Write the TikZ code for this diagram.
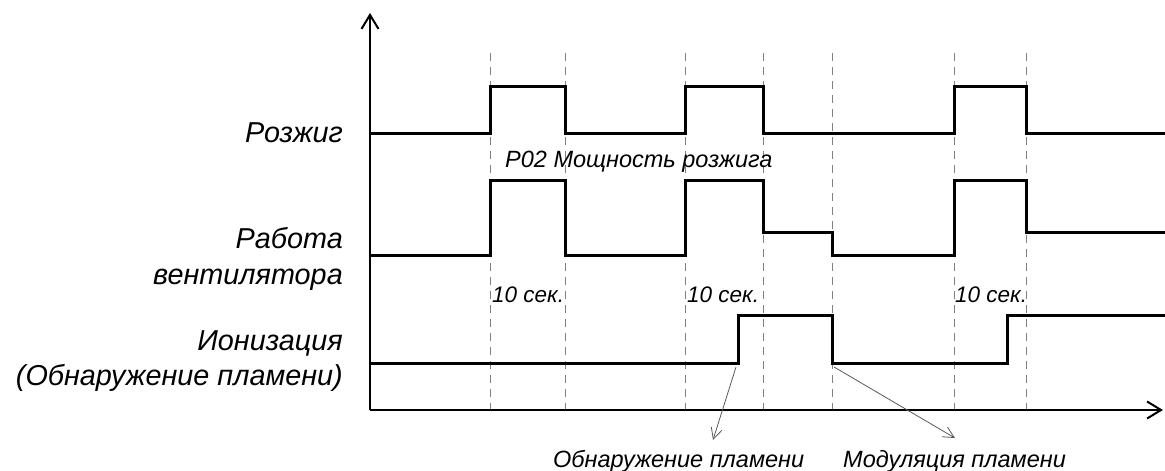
\documentclass[tikz,border=0pt]{standalone}
\usepackage{fontspec}
\setmainfont{Liberation Sans}
\usetikzlibrary{arrows.meta}
\begin{document}
\begin{tikzpicture}[x=1pt,y=-1pt,
  sig/.style={line width=3pt, line join=miter},
  axisline/.style={line width=2pt,-{Straight Barb[length=14pt,width=17pt,line width=2pt]}},
  guide/.style={black!50, line width=0.9pt, dash pattern=on 8pt off 6pt},
  pointer/.style={black!65,line width=0.8pt,-{Straight Barb[length=11pt,width=11pt]}},
  biglab/.style={font=\fontsize{28.8}{34}\selectfont\itshape, inner sep=0pt, anchor=base east},
  smalllab/.style={font=\fontsize{23.5}{28}\selectfont\itshape, inner sep=0pt, anchor=base west},
  seclab/.style={font=\fontsize{22.5}{27}\selectfont\itshape, inner sep=0pt, anchor=base west}]
\useasboundingbox (0,0) rectangle (1165,471);
% axes
\coordinate (O) at (370,410);
\coordinate (ytop) at (370,13);
\coordinate (xend) at (1163,410);
% dashed guides
\foreach \x/\n in {490/1,565/2,685/3,763/4,832/5,954/6,1026/7}{
  \coordinate (g\n top) at (\x,53);
  \coordinate (g\n bot) at (\x,410);
  \draw[guide] (g\n top) -- (g\n bot);
}
\draw[axisline] (O) -- (ytop);
\draw[axisline] (O) -- (xend);
% signals
\draw[sig] (370,133) -- (490,133) -- (490,86) -- (565,86) -- (565,133) -- (685,133) -- (685,86) -- (763,86) -- (763,133) -- (954,133) -- (954,86) -- (1026,86) -- (1026,133) -- (1165,133);
\draw[sig] (370,255) -- (490,255) -- (490,180) -- (565,180) -- (565,255) -- (685,255) -- (685,180) -- (763,180) -- (763,232) -- (832,232) -- (832,255) -- (954,255) -- (954,180) -- (1026,180) -- (1026,232) -- (1165,232);
\draw[sig] (370,363) -- (738,363) -- (738,315) -- (832,315) -- (832,363) -- (1007,363) -- (1007,315) -- (1165,315);
% labels
\node[biglab] (l1) at (343,142) {Розжиг};
\node[biglab] (l2a) at (343,248) {Работа};
\node[biglab] (l2b) at (343,284) {вентилятора};
\node[biglab] (l3a) at (343,350) {Ионизация};
\node[biglab] (l3b) at (343,385) {(Обнаружение пламени)};
\node[smalllab] (p02) at (505,167) {P02 Мощность розжига};
\node[seclab] (s1) at (492,302) {10 сек.};
\node[seclab] (s2) at (687,302) {10 сек.};
\node[seclab] (s3) at (955,302) {10 сек.};
\node[smalllab] (fl) at (553,467) {Обнаружение пламени};
\node[smalllab] (ml) at (843,467) {Модуляция пламени};
% pointers
\coordinate (fdstart) at (736,367);
\coordinate (fdend) at (713,440);
\coordinate (mdstart) at (834,367);
\coordinate (mdend) at (955,438);
\draw[pointer] (fdstart) -- (fdend);
\draw[pointer] (mdstart) -- (mdend);
\end{tikzpicture}
\end{document}
